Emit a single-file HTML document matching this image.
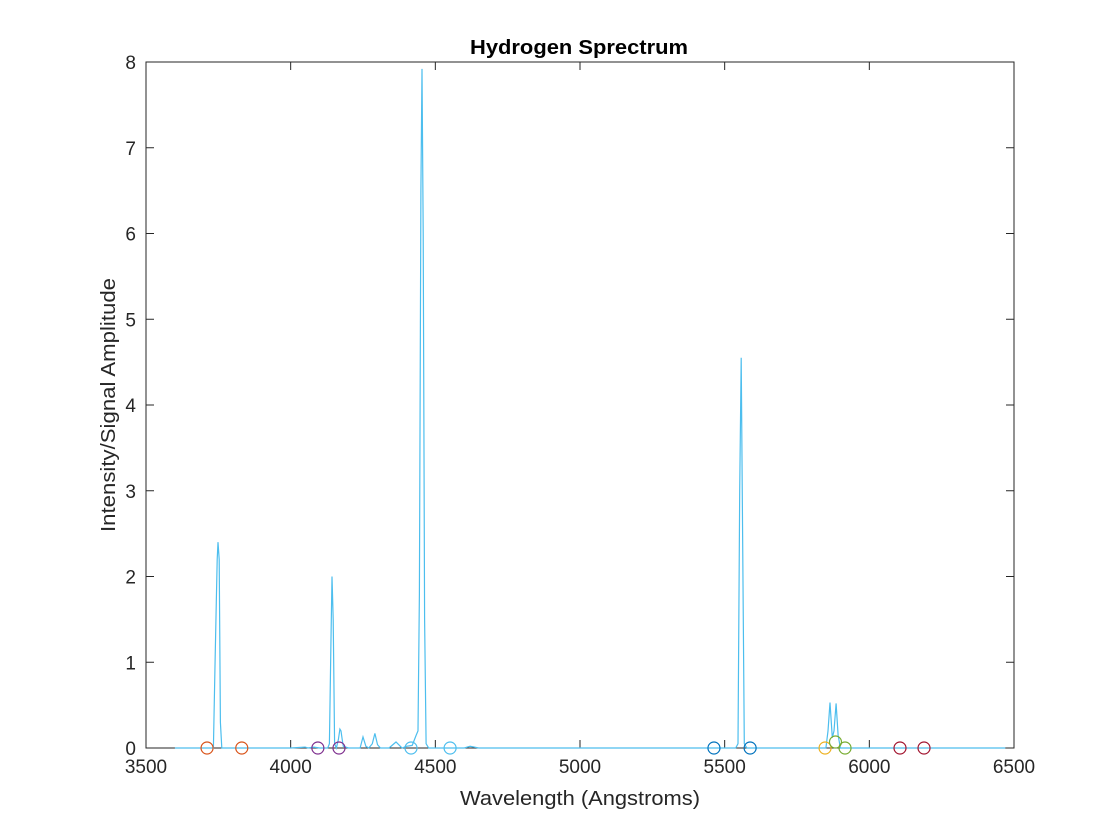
<!DOCTYPE html>
<html><head><meta charset="utf-8"><style>
body{margin:0;background:#fff;}
svg{display:block;font-family:"Liberation Sans",Arial,sans-serif;}
</style></head><body>
<svg id="chart" width="1120" height="840" xmlns="http://www.w3.org/2000/svg">
<rect width="1120" height="840" fill="#fff"/>
<text x="470" y="54" textLength="218" lengthAdjust="spacingAndGlyphs" font-size="20" font-weight="bold">Hydrogen Sprectrum</text>
<text x="460" y="805" textLength="240" lengthAdjust="spacingAndGlyphs" font-size="20" fill="#262626">Wavelength (Angstroms)</text>
<text transform="translate(115,532) rotate(-90)" textLength="254" lengthAdjust="spacingAndGlyphs" font-size="20" fill="#262626">Intensity/Signal Amplitude</text>
<g id="axes"></g>
<g id="series"></g>
<g id="markers"></g>
</svg>
<script>
const xTicks=[3500,4000,4500,5000,5500,6000,6500];
const yTicks=[0,1,2,3,4,5,6,7,8];
const waveX=[3600,3700,3733,3738,3743,3746,3749,3753,3757,3762,3800,3900,4000,4050,4060,4080,4100,4128,4134,4139,4143,4147,4152,4158,4165,4170,4174,4178,4182,4200,4240,4250,4260,4270,4282,4291,4300,4310,4340,4364,4385,4400,4420,4434,4440,4445,4450,4454,4458,4463,4468,4477,4500,4600,4620,4650,4800,5000,5300,5500,5538,5546,5552,5557,5562,5568,5577,5700,5800,5850,5857,5864,5872,5878,5885,5892,5900,5950,6000,6200,6470];
const waveY=[0,0,0,0.9,1.7,2.2,2.4,2.2,0.3,0,0,0,0,0.01,0,0.01,0,0,0.05,1.2,2.0,1.5,0.05,0,0.1,0.22,0.2,0.1,0.02,0,0,0.13,0.02,0,0.05,0.17,0.04,0,0,0.07,0,0.02,0.03,0.15,0.2,1.8,6.5,7.92,6.0,1.5,0.05,0,0,0,0.02,0,0,0,0,0,0,0.05,3.0,4.55,2.5,0.05,0,0,0,0,0.2,0.53,0.12,0.2,0.52,0.15,0,0,0,0,0];
const markerX=[3711,3831,4094,4167,4416,4551,5463,5588,5847,5883,5916,6106,6189];
const markerY=[0,0,0,0,0,0,0,0,0,0.07,0,0,0];
const markerColors=["#D95319","#D95319","#7E2F8E","#7E2F8E","#4DBEEE","#4DBEEE","#0072BD","#0072BD","#EDB120","#77AC30","#77AC30","#A2142F","#A2142F"];
const L=146,R=1014,T=62,B=748;
const sx=v=>L+(v-3500)/3000*(R-L);
const sy=v=>B-v/8*(B-T);
const NS="http://www.w3.org/2000/svg";
function mk(tag,attrs,parent){const e=document.createElementNS(NS,tag);for(const k in attrs)e.setAttribute(k,attrs[k]);parent.appendChild(e);return e;}
const axes=document.getElementById('axes');
const box=mk('rect',{x:L,y:T,width:R-L,height:B-T,fill:'none',stroke:'#262626','stroke-width':1},axes);


xTicks.forEach(t=>{
  const x=sx(t);
  mk('line',{x1:x,x2:x,y1:B,y2:B-8,stroke:'#262626'},axes);
  mk('line',{x1:x,x2:x,y1:T,y2:T+8,stroke:'#262626'},axes);
  const tx=mk('text',{x:x,y:B+25,'text-anchor':'middle','font-size':19,fill:'#262626'},axes);
  tx.textContent=t;
  
  
});
yTicks.forEach(t=>{
  const y=sy(t);
  mk('line',{x1:L,x2:L+8,y1:y,y2:y,stroke:'#262626'},axes);
  mk('line',{x1:R,x2:R-8,y1:y,y2:y,stroke:'#262626'},axes);
  const tx=mk('text',{x:L-10,y:y+7,'text-anchor':'end','font-size':19,fill:'#262626'},axes);
  tx.textContent=t;
  
  
});
const pts=waveX.map((v,i)=>sx(v).toFixed(1)+','+sy(waveY[i]).toFixed(1)).join(' ');
const line=mk('polyline',{points:pts,fill:'none',stroke:'#4DBEEE','stroke-width':1.2},document.getElementById('series'));


const mg=document.getElementById('markers');
markerX.forEach((v,i)=>{
  const c=mk('circle',{cx:sx(v),cy:sy(markerY[i]),r:6,fill:'none',stroke:markerColors[i],'stroke-width':1.2},mg);
  
  
});
</script>
</body></html>
